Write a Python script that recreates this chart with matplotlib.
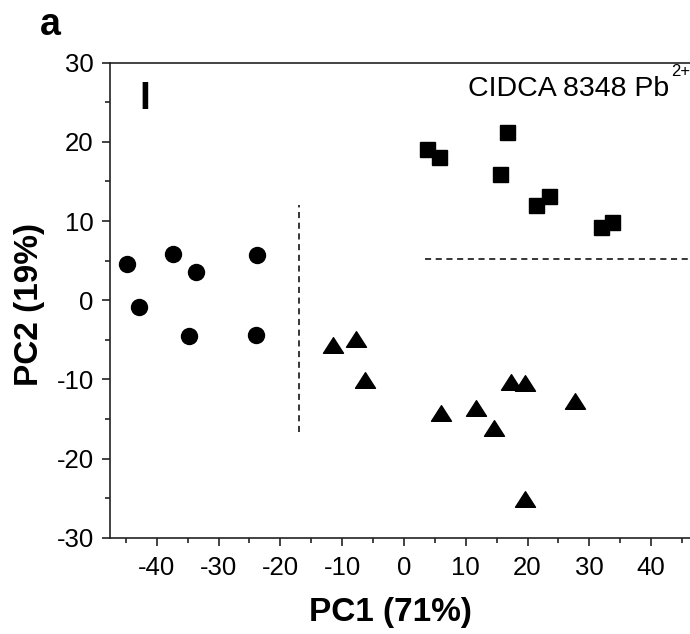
import matplotlib
matplotlib.use("Agg")
import matplotlib.pyplot as plt
from matplotlib.path import Path
from matplotlib.ticker import MultipleLocator

plt.rcParams['font.family'] = ['Liberation Sans', 'DejaVu Sans']
plt.rcParams['axes.unicode_minus'] = False

# Data
circle_x = [-44.8, -37.4, -33.6, -23.7, -42.8, -34.8, -23.9]
circle_y = [4.6, 5.8, 3.5, 5.7, -0.85, -4.55, -4.4]

square_x = [16.6, 3.7, 5.6, 15.5, 23.4, 21.3, 33.6, 31.9]
square_y = [21.2, 19.1, 18.1, 15.9, 13.1, 12.05, 9.9, 9.3]

tri_x = [-11.4, -7.7, -6.3, 6.0, 11.7, 14.5, 17.3, 19.6, 27.7, 19.6]
tri_y = [-5.6, -4.95, -10.1, -14.3, -13.6, -16.1, -10.3, -10.5, -12.7, -25.1]

vline_x = -17.0
vline_y = [-16.7, 12.0]
hline_y = 5.2
hline_x = [3.4, 47.5]

x_ticks = [-40, -30, -20, -10, 0, 10, 20, 30, 40]
y_ticks = [-30, -20, -10, 0, 10, 20, 30]

fig = plt.figure(figsize=(6.9, 6.34), dpi=100)
ax = fig.add_axes([110.4 / 690, 96.3 / 634, 587.1 / 690, 475 / 634])

tri_marker = Path([(-1, -0.78), (1, -0.78), (0, 0.78), (-1, -0.78)],
                  [Path.MOVETO, Path.LINETO, Path.LINETO, Path.CLOSEPOLY])

ax.plot(circle_x, circle_y, linestyle='none', marker='o', ms=11.5,
        color='black', clip_on=False)
ax.plot(square_x, square_y, linestyle='none', marker='s', ms=10.8,
        color='black', clip_on=False)
ax.plot(tri_x, tri_y, linestyle='none', marker=tri_marker, ms=14.4,
        color='black', clip_on=False)

ax.plot([vline_x, vline_x], vline_y, color='black', lw=1.1,
        linestyle=(0, (4, 3)))
ax.plot(hline_x, [hline_y, hline_y], color='black', lw=1.1,
        linestyle=(0, (4, 3)))

ax.set_xlim(-47.5, 47.5)
ax.set_ylim(-30, 30)
ax.set_xticks(x_ticks)
ax.set_yticks(y_ticks)
ax.xaxis.set_minor_locator(MultipleLocator(5))
ax.yaxis.set_minor_locator(MultipleLocator(5))

for s in ['left', 'top', 'bottom', 'right']:
    ax.spines[s].set_linewidth(1.2)
    ax.spines[s].set_color('#222222')

ax.tick_params(axis='both', which='major', direction='out', length=6,
               width=1.2, color='#222222', labelsize=18.5, labelcolor='black')
ax.tick_params(axis='both', which='minor', direction='out', length=3.5,
               width=1.2, color='#222222')
ax.tick_params(axis='x', which='major', pad=7)
ax.tick_params(axis='y', which='major', pad=6)

ax.set_xlabel('PC1 (71%)', fontsize=24, fontweight='bold')
ax.xaxis.set_label_coords((390.5 - 110.4) / 587.1, -0.125)
ax.set_ylabel('PC2 (19%)', fontsize=24, fontweight='bold')
ax.yaxis.set_label_coords(-0.112, 0.49)

fig.text(50 / 690, 1 - 25 / 634, 'a', fontsize=27, fontweight='bold',
         ha='center', va='center')
fig.text(145 / 690, 1 - 99 / 634, 'I', fontsize=28, fontweight='bold',
         ha='center', va='center')
fig.text(468 / 690, 1 - 96 / 634, 'CIDCA 8348 Pb', fontsize=20.5,
         ha='left', va='baseline')
fig.text(671 / 690, 1 - 76 / 634, '2+', fontsize=12,
         ha='left', va='baseline')

fig.savefig('out.png', dpi=100)
